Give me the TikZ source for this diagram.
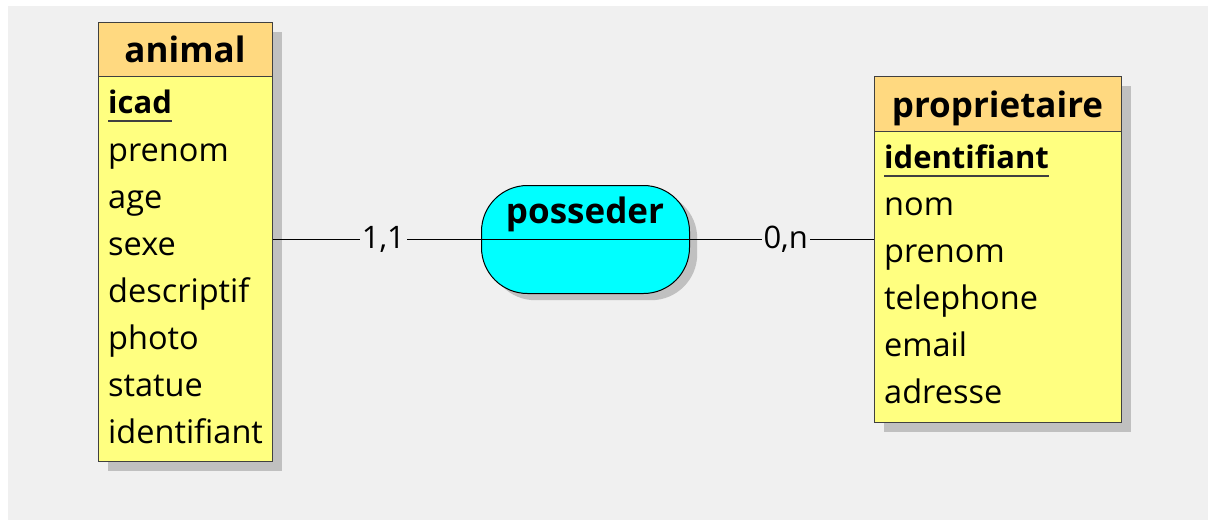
\documentclass[tikz,border=0pt]{standalone}
\usepackage{fontspec}
\setmainfont{Open Sans}
\definecolor{bgc}{HTML}{F0F0F0}
\definecolor{shadowc}{HTML}{C0C0C0}
\definecolor{headc}{HTML}{FFD980}
\definecolor{bodyc}{HTML}{FFFF80}
\definecolor{assoc}{HTML}{00FFFF}
\definecolor{edgec}{HTML}{404040}
\begin{document}
\begin{tikzpicture}[x=1pt,y=-1pt,
  entbody/.style={draw=edgec, line width=1.3pt, fill=bodyc, anchor=north west, inner sep=0pt},
  enthead/.style={draw=edgec, line width=1.3pt, fill=headc, anchor=north west, inner sep=0pt},
  shadowbox/.style={fill=shadowc, draw=none, anchor=north west, inner sep=0pt},
  title/.style={anchor=base, inner sep=0pt, font=\fontsize{35}{40}\selectfont\bfseries},
  attr/.style={anchor=base west, inner sep=0pt, font=\fontsize{32.5}{36}\selectfont},
  keyattr/.style={anchor=base west, inner sep=0pt, font=\fontsize{31}{36}\selectfont\bfseries},
  keyline/.style={draw=edgec, line width=1.5pt},
  assocbox/.style={draw=black, line width=1pt, fill=assoc, rounded corners=46pt, anchor=north west, inner sep=0pt, minimum width=208pt, minimum height=108pt},
  assocshadow/.style={fill=shadowc, rounded corners=46pt, anchor=north west, inner sep=0pt, minimum width=208pt, minimum height=108pt},
  link/.style={draw=black, line width=1.1pt},
  card/.style={fill=bgc, inner sep=2pt, font=\fontsize{31}{34}\selectfont}
]
\useasboundingbox (0,0) rectangle (1208,520);
\fill[white] (0,0) rectangle (1208,520);
\fill[bgc] (8,6) rectangle (1208,520);

% ---- animal ----
\node[shadowbox, minimum width=174pt, minimum height=439pt] (animalshadow) at (108,32) {};
\node[entbody, minimum width=174pt, minimum height=439pt] (animal) at (98,22) {};
\node[enthead, minimum width=174pt, minimum height=54pt] (animalhead) at (98,22) {};
\node[title] (animaltitle) at (185,62) {animal};
\node[keyattr] (a1) at (108,113) {icad};
\draw[keyline] ([yshift=-8pt]a1.base west) -- ([yshift=-8pt]a1.base east);
\node[attr] (a2) at (108,161) {prenom};
\node[attr] (a3) at (108,208) {age};
\node[attr] (a4) at (108,255) {sexe};
\node[attr] (a5) at (108,302) {descriptif};
\node[attr] (a6) at (108,349) {photo};
\node[attr] (a7) at (108,396) {statue};
\node[attr] (a8) at (108,443) {identifiant};

% ---- proprietaire ----
\node[shadowbox, minimum width=247pt, minimum height=346pt] (propshadow) at (884,86) {};
\node[entbody, minimum width=247pt, minimum height=346pt] (prop) at (874,76) {};
\node[enthead, minimum width=247pt, minimum height=55pt] (prophead) at (874,76) {};
\node[title] (proptitle) at (997.5,117) {proprietaire};
\node[keyattr] (p1) at (884,168) {identifiant};
\draw[keyline] ([yshift=-8pt]p1.base west) -- ([yshift=-8pt]p1.base east);
\node[attr] (p2) at (884,215) {nom};
\node[attr] (p3) at (884,262) {prenom};
\node[attr] (p4) at (884,309) {telephone};
\node[attr] (p5) at (884,356) {email};
\node[attr] (p6) at (884,403) {adresse};

% ---- posseder ----
\node[assocshadow] (posshadow) at (489,192) {};
\node[assocbox] (pos) at (481,185) {};
\draw[link] (pos.west) -- (pos.east);
\node[title] (postitle) at (585,223) {posseder};

% ---- links ----
\draw[link] (animal.east |- pos.west) -- node[card, pos=0.53] (c1) {1,1} (pos.west);
\draw[link] (pos.east) -- node[card, pos=0.52] (c2) {0,n} (prop.west |- pos.east);
\end{tikzpicture}
\end{document}
